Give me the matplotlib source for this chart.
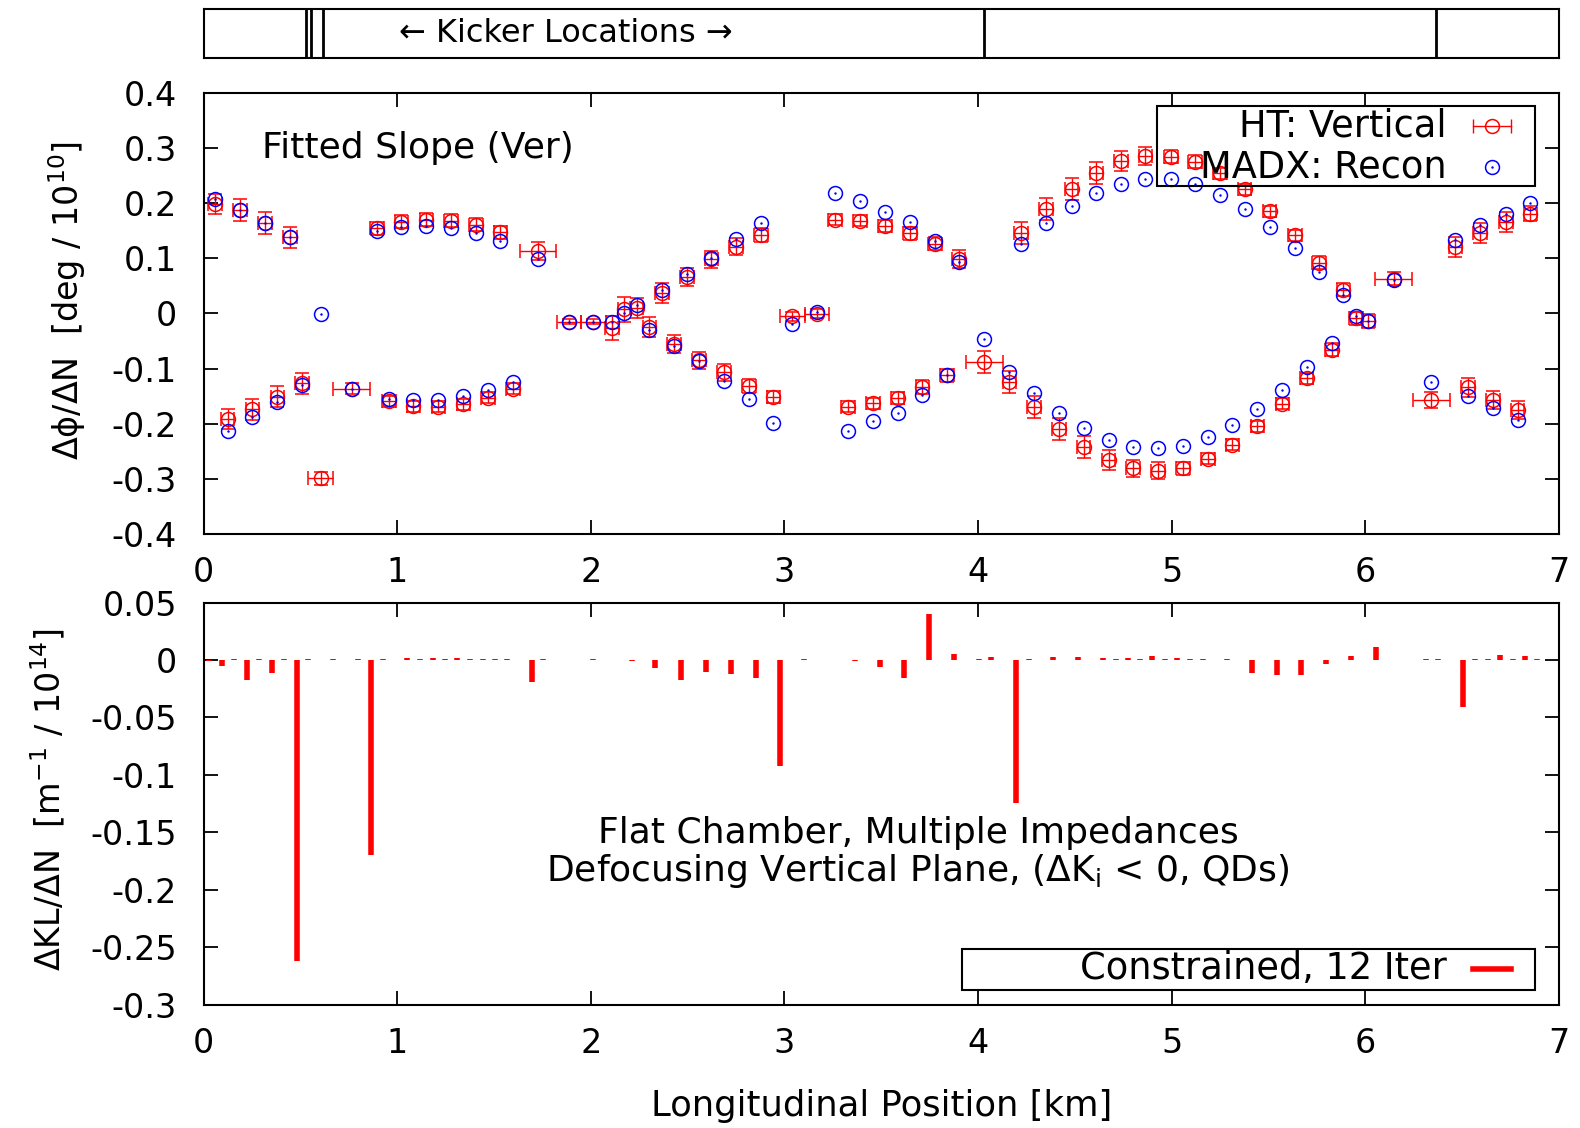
import matplotlib
matplotlib.use("Agg")
import matplotlib.pyplot as plt
import numpy as np
from matplotlib.patches import Rectangle
from matplotlib.ticker import FuncFormatter, MultipleLocator

plt.rcParams['font.family'] = ['DejaVu Sans']
plt.rcParams['font.size'] = 24
plt.rcParams['mathtext.default'] = 'regular'
plt.rcParams['axes.unicode_minus'] = False

# kicker positions shown in the strip on top [km]
kicker_km = [0.528, 0.555, 0.617, 4.03, 6.365]

# fitted phase slope per BPM
pos_km = [0.059, 0.125, 0.188, 0.252, 0.318, 0.381, 0.447, 0.509, 0.605, 0.765,
          0.895, 0.958, 1.022, 1.084, 1.151, 1.213, 1.277, 1.342, 1.406, 1.468,
          1.533, 1.597, 1.726, 1.888, 2.014, 2.110, 2.174, 2.237, 2.303, 2.368,
          2.430, 2.496, 2.559, 2.623, 2.687, 2.751, 2.816, 2.880, 2.943, 3.040,
          3.167, 3.262, 3.327, 3.391, 3.457, 3.520, 3.584, 3.649, 3.713, 3.777,
          3.839, 3.899, 4.033, 4.162, 4.223, 4.288, 4.352, 4.417, 4.483, 4.545,
          4.611, 4.674, 4.738, 4.801, 4.864, 4.930, 4.995, 5.058, 5.121, 5.187,
          5.249, 5.313, 5.377, 5.442, 5.506, 5.571, 5.636, 5.697, 5.761, 5.826,
          5.887, 5.953, 6.016, 6.147, 6.341, 6.465, 6.531, 6.592, 6.660, 6.725,
          6.786, 6.852]
ht_slope = [0.199, -0.192, 0.187, -0.174, 0.164, -0.151, 0.138, -0.127, -0.299, -0.137,
            0.154, -0.159, 0.166, -0.168, 0.170, -0.169, 0.168, -0.165, 0.161, -0.153,
            0.147, -0.137, 0.113, -0.015, -0.015, -0.027, 0.007, 0.010, -0.024, 0.037,
            -0.056, 0.066, -0.085, 0.098, -0.107, 0.121, -0.132, 0.142, -0.151, -0.005,
            -0.001, 0.170, -0.169, 0.168, -0.163, 0.158, -0.153, 0.145, -0.133, 0.126,
            -0.112, 0.099, -0.088, -0.124, 0.146, -0.169, 0.190, -0.210, 0.226, -0.242,
            0.255, -0.266, 0.276, -0.281, 0.285, -0.285, 0.284, -0.281, 0.275, -0.264,
            0.254, -0.238, 0.225, -0.205, 0.185, -0.164, 0.142, -0.118, 0.092, -0.066,
            0.043, -0.009, -0.014, 0.063, -0.157, 0.121, -0.134, 0.145, -0.157, 0.166,
            -0.175, 0.181]
ht_err = [0.018, 0.018, 0.020, 0.019, 0.020, 0.019, 0.019, 0.019, 0.012, 0.010,
          0.012, 0.010, 0.012, 0.010, 0.012, 0.010, 0.012, 0.010, 0.012, 0.010,
          0.012, 0.010, 0.017, 0.005, 0.005, 0.022, 0.022, 0.018, 0.018, 0.018,
          0.016, 0.016, 0.015, 0.015, 0.015, 0.015, 0.013, 0.013, 0.011, 0.008,
          0.008, 0.010, 0.010, 0.010, 0.010, 0.011, 0.011, 0.012, 0.013, 0.012,
          0.012, 0.016, 0.020, 0.020, 0.020, 0.020, 0.020, 0.020, 0.020, 0.020,
          0.020, 0.018, 0.018, 0.016, 0.016, 0.016, 0.012, 0.012, 0.012, 0.010,
          0.010, 0.010, 0.010, 0.010, 0.010, 0.010, 0.010, 0.010, 0.012, 0.012,
          0.012, 0.012, 0.012, 0.012, 0.014, 0.018, 0.017, 0.018, 0.017, 0.018,
          0.017, 0.014]
ht_xerr = [0.035] * len(pos_km)
for i, w in [(8, 0.063), (9, 0.095), (22, 0.093), (23, 0.062), (24, 0.064),
             (39, 0.065), (40, 0.063), (52, 0.097), (83, 0.095), (84, 0.095)]:
    ht_xerr[i] = w
madx_slope = [0.208, -0.213, 0.187, -0.187, 0.164, -0.161, 0.138, -0.130, -0.001, -0.137,
              0.149, -0.155, 0.157, -0.157, 0.158, -0.157, 0.155, -0.150, 0.145, -0.139,
              0.131, -0.124, 0.099, -0.015, -0.015, -0.016, 0.000, 0.015, -0.030, 0.043,
              -0.059, 0.071, -0.086, 0.100, -0.123, 0.134, -0.156, 0.163, -0.198, -0.019,
              0.003, 0.218, -0.213, 0.204, -0.196, 0.184, -0.181, 0.166, -0.148, 0.132,
              -0.112, 0.093, -0.047, -0.106, 0.125, -0.145, 0.163, -0.180, 0.194, -0.208,
              0.218, -0.230, 0.235, -0.242, 0.243, -0.245, 0.243, -0.240, 0.234, -0.225,
              0.214, -0.203, 0.189, -0.174, 0.157, -0.139, 0.118, -0.097, 0.075, -0.053,
              0.033, -0.005, -0.014, 0.060, -0.124, 0.133, -0.150, 0.160, -0.172, 0.181,
              -0.194, 0.200]

# reconstructed quadrupole errors
bar_km = [0.030, 0.094, 0.159, 0.224, 0.288, 0.353, 0.417, 0.482, 0.541, 0.670,
          0.800, 0.864, 0.926, 1.053, 1.118, 1.184, 1.247, 1.311, 1.377, 1.442,
          1.505, 1.566, 1.695, 1.755, 2.013, 2.212, 2.332, 2.465, 2.594, 2.723,
          2.852, 2.978, 3.103, 3.365, 3.491, 3.618, 3.746, 3.875, 4.006, 4.069,
          4.197, 4.263, 4.388, 4.517, 4.645, 4.711, 4.772, 4.835, 4.899, 4.963,
          5.029, 5.093, 5.159, 5.286, 5.415, 5.543, 5.670, 5.798, 5.927, 6.054,
          6.313, 6.377, 6.502, 6.568, 6.631, 6.695, 6.760, 6.825, 6.888]
dkl = [-0.001, -0.005, 0.001, -0.0174, 0.001, -0.0113, 0.001, -0.262, 0.0007, 0.0007,
       0.0007, -0.170, 0.001, 0.002, 0.0007, 0.002, 0.0007, 0.0015, 0.0007, 0.001,
       0.0007, 0.001, -0.019, 0.0007, 0.0007, -0.001, -0.007, -0.0174, -0.0107, -0.0122,
       -0.0157, -0.0926, 0.0007, -0.001, -0.0065, -0.0154, 0.040, 0.005, 0.0007, 0.0023,
       -0.1246, 0.001, 0.0023, 0.0023, 0.0017, 0.0007, 0.0017, 0.0007, 0.0035, 0.0007,
       0.0017, 0.0007, 0.001, 0.0007, -0.011, -0.0131, -0.0131, -0.0038, 0.0035, 0.011,
       0.0007, 0.0007, -0.041, 0.001, 0.0007, 0.004, 0.0007, 0.0038, 0.001]

W, H = 1580, 1128
L, R = 203.5, 1559
fig = plt.figure(figsize=(W / 100, H / 100), dpi=100)
ax_k = fig.add_axes([L / W, 1 - 58 / H, (R - L) / W, 49 / H])
ax = fig.add_axes([L / W, 1 - 534 / H, (R - L) / W, 441.3 / H])
ax_b = fig.add_axes([L / W, 1 - 1004.6 / H, (R - L) / W, 402 / H])

gfmt = FuncFormatter(lambda v, p: '%g' % round(v, 6))
key_fs = 26.5

# kicker strip
ax_k.vlines(kicker_km, 0, 1, color='black', lw=2.0)
ax_k.set_xlim(0, 7)
ax_k.set_ylim(0, 1)
ax_k.set_xticks([])
ax_k.set_yticks([])
ax_k.text(1.873, 0.5, '← Kicker Locations →', ha='center', va='center', fontsize=23)
for s in ax_k.spines.values():
    s.set_linewidth(1.5)

# phase slope panel
ax.errorbar(pos_km, ht_slope, yerr=ht_err, xerr=ht_xerr, fmt='o', ms=10,
            mfc='none', mec='red', mew=1.1, ecolor='red', elinewidth=1.0,
            capsize=5, capthick=1.0, zorder=2)
ax.plot(pos_km, madx_slope, 'o', ms=10, mfc='none', mec='blue', mew=1.1, zorder=3)
ax.plot(pos_km, madx_slope, '.', ms=1.5, color='blue', zorder=3)
ax.set_xlim(0, 7)
ax.set_ylim(-0.4, 0.4)
ax.yaxis.set_major_locator(MultipleLocator(0.1))
ax.xaxis.set_major_locator(MultipleLocator(1))
ax.yaxis.set_major_formatter(gfmt)
ax.xaxis.set_major_formatter(gfmt)
ax.set_ylabel('Δϕ/ΔN  [deg / $10^{10}$]')
ax.yaxis.set_label_coords(-0.085, 0.53)
ax.text(0.302, 0.30, 'Fitted Slope (Ver)', ha='left', va='center', fontsize=26)

# key drawn gnuplot style, labels right-aligned before the samples
ax.add_patch(Rectangle((0.7034, 0.789), 0.2789, 0.181, transform=ax.transAxes,
                       fill=False, lw=1.5, ec='black', zorder=5))
ax.text(0.9174, 0.9245, 'HT: Vertical', ha='right', va='center',
        transform=ax.transAxes, zorder=5, fontsize=key_fs)
ax.text(0.9174, 0.831, 'MADX: Recon', ha='right', va='center',
        transform=ax.transAxes, zorder=5, fontsize=key_fs)
ax.plot([0.9367, 0.9647], [0.9245, 0.9245], color='red', lw=1.0, transform=ax.transAxes)
ax.plot([0.9367, 0.9647], [0.9245, 0.9245], '|', color='red', ms=10, mew=1.0,
        transform=ax.transAxes)
ax.plot([0.9507], [0.9245], 'o', ms=10, mfc='none', mec='red', mew=1.1,
        transform=ax.transAxes)
ax.plot([0.9507], [0.831], 'o', ms=10, mfc='none', mec='blue', mew=1.1,
        transform=ax.transAxes)
ax.plot([0.9507], [0.831], '.', ms=1.5, color='blue', transform=ax.transAxes)

# quadrupole error panel
ax_b.vlines(bar_km, 0, dkl, color='red', lw=4.0)
ax_b.set_xlim(0, 7)
ax_b.set_ylim(-0.3, 0.05)
ax_b.yaxis.set_major_locator(MultipleLocator(0.05))
ax_b.xaxis.set_major_locator(MultipleLocator(1))
ax_b.yaxis.set_major_formatter(gfmt)
ax_b.xaxis.set_major_formatter(gfmt)
ax_b.set_ylabel('ΔKL/ΔN  [$m^{-1}$ / $10^{14}$]')
ax_b.yaxis.set_label_coords(-0.1007, 0.509)
ax_b.set_xlabel('Longitudinal Position [km]', fontsize=25.5)
ax_b.xaxis.set_label_coords(0.5, -0.21)
ax_b.text(3.69, -0.168,
          'Flat Chamber, Multiple Impedances\nDefocusing Vertical Plane, (Δ$K_i$ < 0, QDs)',
          ha='center', va='center', multialignment='center', linespacing=1.1,
          fontsize=26)

ax_b.add_patch(Rectangle((0.5596, 0.0363), 0.4227, 0.102, transform=ax_b.transAxes,
                         fill=False, lw=1.5, ec='black', zorder=5))
ax_b.text(0.9174, 0.0886, 'Constrained, 12 Iter', ha='right', va='center',
          transform=ax_b.transAxes, zorder=5, fontsize=key_fs)
ax_b.plot([0.9365, 0.9646], [0.0886, 0.0886], color='red', lw=4.0,
          transform=ax_b.transAxes)

for a in (ax, ax_b):
    a.tick_params(direction='in', length=10, width=1.3, top=True, right=True)
    a.tick_params(axis='x', pad=16)
    a.tick_params(axis='y', pad=19)
    for s in a.spines.values():
        s.set_linewidth(1.5)

fig.savefig('out.png', dpi=100)
